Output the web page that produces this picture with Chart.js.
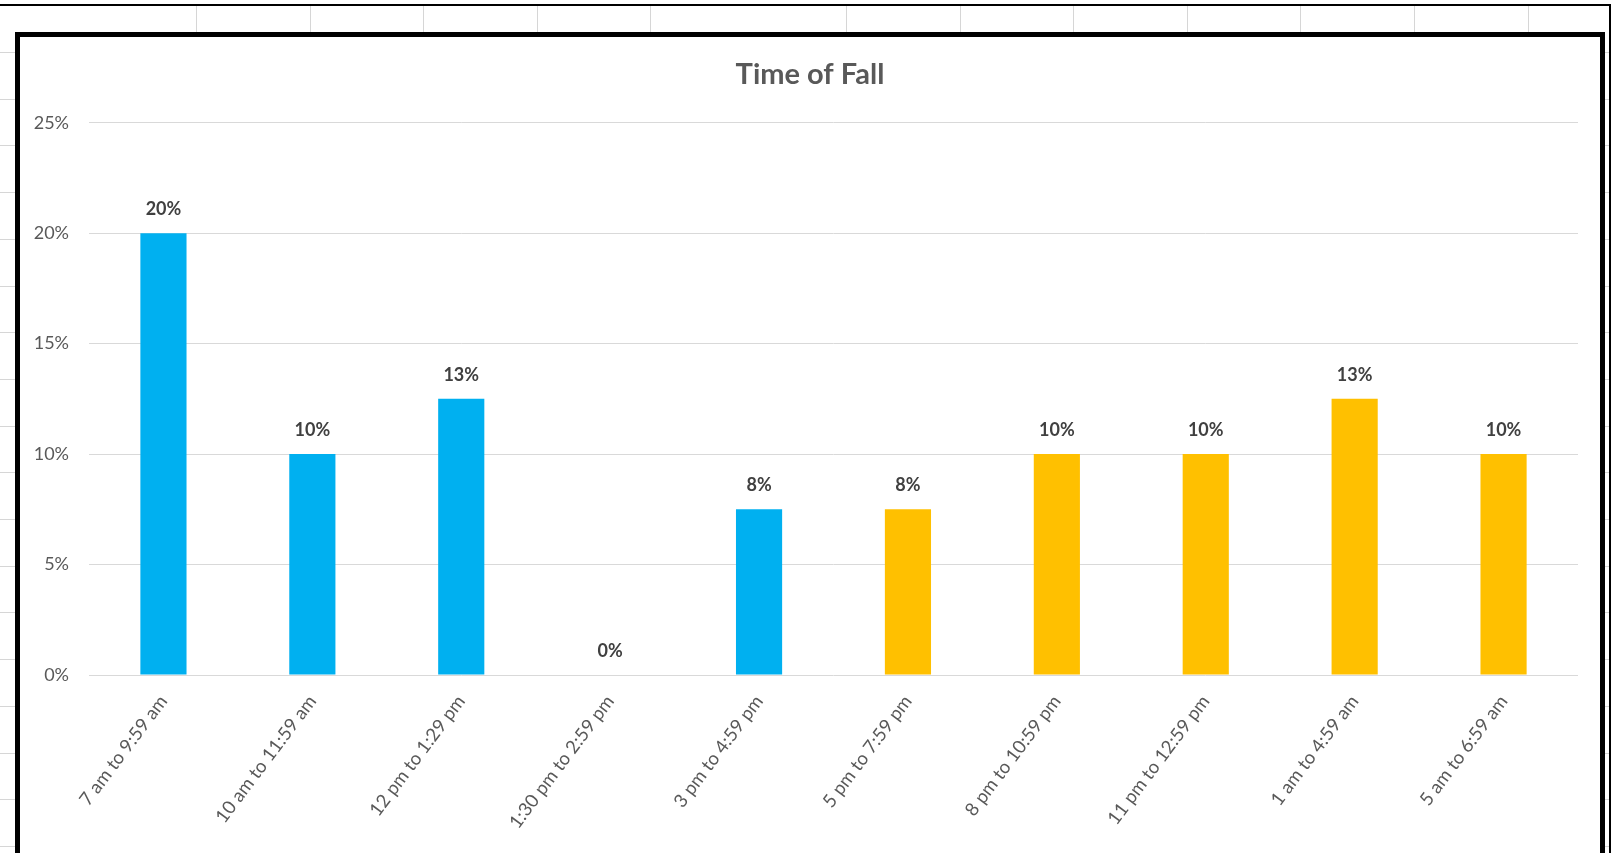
<!DOCTYPE html>
<html>
<head>
<meta charset="utf-8">
<title>Time of Fall</title>
<script src="https://cdn.jsdelivr.net/npm/chart.js@4"></script>
<style>
  html, body { margin: 0; padding: 0; background: #fff; overflow: hidden; }
  body { width: 1618px; height: 853px; position: relative; }
  /* worksheet behind the chart */
  .sheet-top { position: absolute; left: 0; top: 4px; width: 1611px; height: 2px; background: #000; }
  .sheet-right { position: absolute; left: 1609px; top: 4px; width: 2px; height: 849px; background: #000; }
  .cell-v { position: absolute; top: 6px; width: 1px; height: 26px; background: #d6d6d6; }
  .cell-h { position: absolute; height: 1px; background: #d6d6d6; }
  .frame {
    position: absolute; left: 15px; top: 32px; width: 1580px; height: 900px;
    border: 5px solid #000; background: #fff;
  }
  .chart-wrap { position: absolute; left: 20px; top: 37px; width: 1580px; height: 816px; }
</style>
</head>
<body>
<div class="sheet-top"></div>
<div class="sheet-right"></div>
<div id="cells"></div>
<div class="frame"></div>
<div class="chart-wrap"><canvas id="fallChart" width="1580" height="816"></canvas></div>

<script>
const categories = [
  '7 am to 9:59 am',
  '10 am to 11:59 am',
  '12 pm to 1:29 pm',
  '1:30 pm to 2:59 pm',
  '3 pm to 4:59 pm',
  '5 pm to 7:59 pm',
  '8 pm to 10:59 pm',
  '11 pm to 12:59 pm',
  '1 am to 4:59 am',
  '5 am to 6:59 am',
]
const fallShare = [20, 10, 12.5, 0, 7.5, 7.5, 10, 10, 12.5, 10]
const yTicks = [0, 5, 10, 15, 20, 25]

// first five slots are the day shift, the rest evening/night
const dayShiftSlots = 5
const DAY_BLUE = '#00B0F0'
const NIGHT_GOLD = '#FFC000'

// worksheet cell lines around the chart
const cells = document.getElementById('cells')
;[196, 310, 423, 537, 650, 846, 960, 1073, 1187, 1300, 1414, 1528].forEach(x => {
  const d = document.createElement('div')
  d.className = 'cell-v'
  d.style.left = x + 'px'
  cells.appendChild(d)
})
for (let y = 52; y < 853; y += 46.7) {
  const l = document.createElement('div')
  l.className = 'cell-h'
  l.style.left = '0px'; l.style.width = '15px'; l.style.top = Math.round(y) + 'px'
  cells.appendChild(l)
  const r = document.createElement('div')
  r.className = 'cell-h'
  r.style.left = '1605px'; r.style.width = '4px'; r.style.top = Math.round(y) + 'px'
  cells.appendChild(r)
}

// percentage labels above each bar
const valueLabels = {
  id: 'valueLabels',
  afterDatasetsDraw(chart) {
    const ctx = chart.ctx
    const meta = chart.getDatasetMeta(0)
    ctx.save()
    ctx.font = 'bold 18px Lato'
    ctx.fillStyle = '#404040'
    ctx.textAlign = 'center'
    ctx.textBaseline = 'middle'
    meta.data.forEach((bar, i) => {
      ctx.fillText(Math.round(fallShare[i]) + '%', bar.x, bar.y - 24)
    })
    ctx.restore()
  },
}

const ctx = document.getElementById('fallChart').getContext('2d')

new Chart(ctx, {
  type: 'bar',
  data: {
    labels: categories,
    datasets: [
      {
        data: fallShare,
        backgroundColor: fallShare.map((v, i) => (i < dayShiftSlots ? DAY_BLUE : NIGHT_GOLD)),
        borderWidth: 0,
        barPercentage: 0.31,
        categoryPercentage: 1,
      },
    ],
  },
  options: {
    responsive: false,
    animation: false,
    layout: { padding: 0 },
    plugins: {
      legend: { display: false },
      tooltip: { enabled: false },
      title: {
        display: true,
        text: 'Time of Fall',
        color: '#595959',
        font: { family: 'Lato', size: 29, weight: 'bold' },
        padding: { top: 19.8, bottom: 31.1 },
      },
    },
    scales: {
      x: {
        grid: { display: false },
        border: { display: false },
        ticks: {
          color: '#595959',
          font: { family: 'Lato', size: 18.5 },
          minRotation: 53,
          maxRotation: 53,
          padding: 8,
          autoSkip: false,
        },
        afterFit(scale) { scale.height = 178 },
      },
      y: {
        min: 0,
        max: 25,
        afterBuildTicks(scale) { scale.ticks = yTicks.map(v => ({ value: v })) },
        grid: { color: '#D9D9D9', lineWidth: 1, drawTicks: false },
        border: { display: false },
        ticks: {
          color: '#595959',
          font: { family: 'Lato', size: 18 },
          padding: 20,
          callback: v => v + '%',
        },
        afterFit(scale) { scale.width = 69 },
      },
      // empty right-hand margin so the plot stops short of the frame
      gutter: {
        type: 'linear',
        position: 'right',
        grid: { display: false },
        border: { display: false },
        ticks: { display: false },
        afterFit(scale) { scale.width = 22 },
      },
    },
  },
  plugins: [valueLabels],
})
</script>
</body>
</html>
